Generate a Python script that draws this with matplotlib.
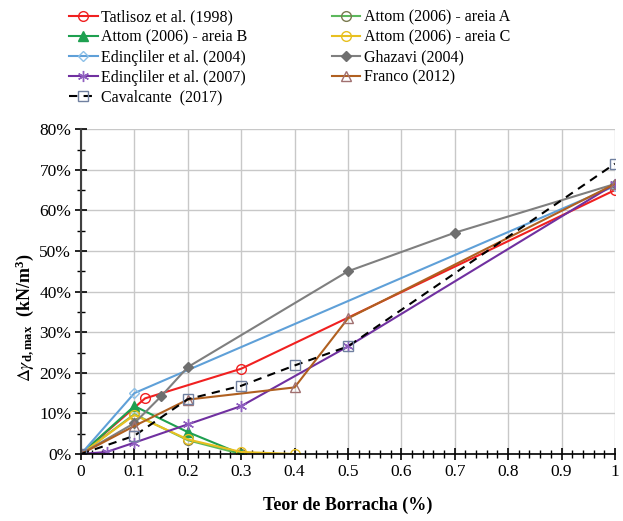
import matplotlib
matplotlib.use("Agg")
import matplotlib.pyplot as plt
from matplotlib.ticker import MultipleLocator, FuncFormatter

plt.rcParams['font.family'] = ['Liberation Serif', 'DejaVu Serif']
plt.rcParams['mathtext.fontset'] = 'stix'

# ---- data (teor de borracha, delta gamma_d,max in %) ----
tat_x = [0, 0.12, 0.3, 1.0]
tat_y = [0, 13.7, 21.0, 65.0]

attA_x = [0, 0.1, 0.2, 0.3]
attA_y = [0, 9.8, 3.4, 0.0]

attB_x = [0, 0.1, 0.2, 0.3]
attB_y = [0, 11.8, 5.4, 0.0]

attC_x = [0, 0.1, 0.2, 0.3, 0.4]
attC_y = [0, 9.6, 3.6, 0.5, 0.0]

ed04_x = [0, 0.1, 1.0]
ed04_y = [0, 15.0, 66.0]

ghz_x = [0, 0.1, 0.15, 0.2, 0.5, 0.7, 1.0]
ghz_y = [0, 7.6, 14.2, 21.4, 45.0, 54.5, 66.5]

ed07_x = [0, 0.048, 0.1, 0.2, 0.3, 0.5, 1.0]
ed07_y = [0, 0.5, 2.8, 7.3, 11.8, 26.5, 66.5]

fra_x = [0, 0.1, 0.2, 0.4, 0.5, 1.0]
fra_y = [0, 6.9, 13.4, 16.4, 33.4, 66.5]

cav_x = [0, 0.1, 0.2, 0.3, 0.4, 0.5, 1.0]
cav_y = [0, 4.5, 13.5, 16.8, 21.8, 26.5, 71.5]

x_ticks = [0, 0.1, 0.2, 0.3, 0.4, 0.5, 0.6, 0.7, 0.8, 0.9, 1.0]
x_tick_labels = ['0', '0.1', '0.2', '0.3', '0.4', '0.5', '0.6', '0.7', '0.8', '0.9', '1']

fig = plt.figure(figsize=(6.23, 5.21), dpi=100)
ax = fig.add_axes([0.130, 0.1286, 0.857, 0.6234])

lw = 1.5
ms = 7
h_tat, = ax.plot(tat_x, tat_y, color='#f02020', lw=lw, marker='o', mfc='none', mec='#f02020', ms=ms, label='Tatlisoz et al. (1998)')
h_attA, = ax.plot(attA_x, attA_y, color='#5cb85c', lw=lw, marker='o', mfc='none', mec='#7a7a50', ms=ms, label='Attom (2006) - areia A')
h_attB, = ax.plot(attB_x, attB_y, color='#1ea050', lw=lw, marker='^', mfc='#1ea050', mec='#1ea050', ms=ms, label='Attom (2006) - areia B')
h_attC, = ax.plot(attC_x, attC_y, color='#e8c020', lw=lw, marker='o', mfc='none', mec='#e8c020', ms=ms, label='Attom (2006) - areia C')
h_ed04, = ax.plot(ed04_x, ed04_y, color='#5fa0d8', lw=lw, marker='D', mfc='none', mec='#8cc0e8', ms=5, label='Edinçliler et al. (2004)')
h_ghz, = ax.plot(ghz_x, ghz_y, color='#7f7f7f', lw=lw, marker='D', mfc='#6f6f6f', mec='#6f6f6f', ms=5, label='Ghazavi (2004)')
h_ed07, = ax.plot(ed07_x, ed07_y, color='#7030a0', lw=lw, marker=(6, 2, 0), mfc='none', mec='#9060c0', ms=8, label='Edinçliler et al. (2007)')
h_fra, = ax.plot(fra_x, fra_y, color='#b06020', lw=lw, marker='^', mfc='none', mec='#a07070', ms=ms, label='Franco (2012)')
h_cav, = ax.plot(cav_x, cav_y, color='black', lw=lw, ls=(0, (4, 3)), marker='s', mfc='none', mec='#7080a0', ms=ms, label='Cavalcante  (2017)')

ax.set_xlim(0, 1.0)
ax.set_ylim(0, 80)
ax.set_xticks(x_ticks)
ax.set_xticklabels(x_tick_labels)
ax.xaxis.set_minor_locator(MultipleLocator(0.02))
ax.yaxis.set_major_locator(MultipleLocator(10))
ax.yaxis.set_minor_locator(MultipleLocator(5))
ax.yaxis.set_major_formatter(FuncFormatter(lambda v, p: f'{v:.0f}%'))

ax.grid(True, which='major', color='#c8c8c8', lw=1.0)
ax.set_axisbelow(True)
for s in ['top', 'right']:
    ax.spines[s].set_visible(False)
ax.spines['left'].set_color('#404040')
ax.spines['left'].set_linewidth(1.5)
ax.spines['bottom'].set_color('black')
ax.spines['bottom'].set_linewidth(1.2)

ax.tick_params(axis='both', which='major', direction='inout', length=8, width=1.2, labelsize=12.5, colors='black')
ax.tick_params(axis='both', which='minor', direction='inout', length=6, width=1.0)
ax.tick_params(axis='x', pad=3)
ax.tick_params(axis='y', pad=3)

ax.set_xlabel('Teor de Borracha (%)', fontsize=13, fontweight='bold', labelpad=12)
ax.set_ylabel(r'$\Delta\gamma_{\mathregular{d,max}}$  (kN/m$^{\mathregular{3}}$)', fontsize=13, fontweight='bold')
ax.yaxis.set_label_coords(-0.085, 0.42)

handles = [h_tat, h_attB, h_ed04, h_ed07, h_cav, h_attA, h_attC, h_ghz, h_fra]
leg = fig.legend(handles=handles, labels=[h.get_label() for h in handles], ncol=2,
                 loc='upper left', bbox_to_anchor=(0.095, 1.0), frameon=False,
                 fontsize=11.5, handlelength=1.8, handletextpad=0.2,
                 columnspacing=5.3, labelspacing=0.25, borderaxespad=0.2)

fig.savefig('out.png', dpi=100)
